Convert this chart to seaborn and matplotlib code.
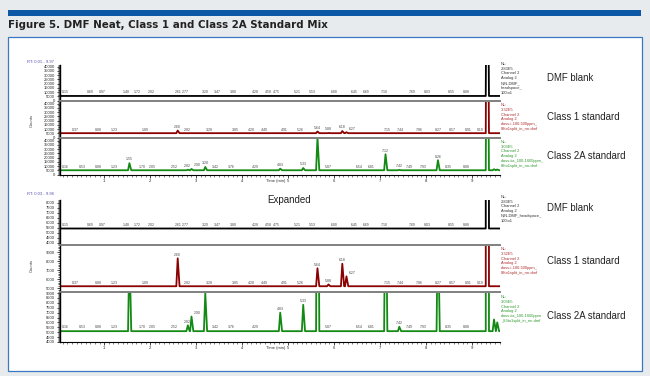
import numpy as np
import pandas as pd
import matplotlib
matplotlib.use("Agg")
import matplotlib.pyplot as plt
from matplotlib.ticker import MultipleLocator
from matplotlib.patches import Rectangle
import seaborn as sns

sns.set_style("white")
plt.rcParams['font.family'] = ['Liberation Sans', 'DejaVu Sans']

# Peak apex positions (min) and heights (counts)
dmf_rt = [9.33]
dmf_height = [300000]
dmf_base = 5450

c1_rt = [2.60, 5.64, 5.88, 6.18, 6.27, 9.33]
c1_height = [8300, 7200, 5400, 7700, 6300, 330000]
c1_base = 5200

c2a_rt = [1.55, 2.82, 2.90, 3.20, 4.83, 5.33, 5.64, 7.12, 7.42, 8.26, 9.33, 9.48, 9.55]
c2a_height = [13500, 5700, 6600, 9000, 7000, 7800, 44000, 24000, 5550, 17000, 300000, 6300, 6000]
c2a_base = 5100

# retention time labels printed along each trace
dmf_labels = [0.15, 0.69, 0.97, 1.48, 1.72, 2.02, 2.61, 2.77, 3.20, 3.47, 3.80, 4.28, 4.58,
              4.75, 5.21, 5.53, 6.00, 6.45, 6.69, 7.10, 7.69, 8.03, 8.55, 8.88]
c1_labels = [0.37, 0.88, 1.23, 1.89, 2.60, 2.82, 3.28, 3.85, 4.20, 4.49, 4.91, 5.26, 5.64,
             5.88, 6.18, 6.27, 7.15, 7.44, 7.86, 8.27, 8.57, 8.91, 9.19]
c2a_labels = [0.16, 0.53, 0.88, 1.23, 1.55, 1.70, 2.05, 2.52, 2.82, 2.90, 3.20, 3.42, 3.76,
              4.29, 4.83, 5.33, 5.87, 6.54, 6.81, 7.12, 7.42, 7.49, 7.93, 8.26, 8.35, 8.88]

names = ["DMF blank", "Class 1 standard", "Class 2A standard"]
colors = ["black", "#8b0000", "#138a13"]
nl_colors = ["#333333", "#b03030", "#2e9a2e"]
nl_full = ["NL:\n2.83E5\nChannel 2\nAnalog 2\nN,N-DMF_\nheadspace_\n100to1",
           "NL:\n3.32E5\nChannel 2\nAnalog 2\nclass-i-100-500ppm_\n83to1split_in_nn-dmf",
           "NL:\n3.03E5\nChannel 2\nAnalog 2\nclass-iia_100-1600ppm_\n83to1split_in_nn-dmf"]
nl_expanded = ["NL:\n2.83E5\nChannel 2\nAnalog 2\nN,N-DMF_headspace_\n100to1",
               "NL:\n3.32E5\nChannel 2\nAnalog 2\nclass-i-100-500ppm_\n83to1split_in_nn-dmf",
               "NL:\n3.03E5\nChannel 2\nAnalog 2\nclass-iia_100-1600ppm\n_83to1split_in_nn-dmf"]


def build_trace(rts, heights, base, left=0.03, right=0.04):
    t = [0.01]
    y = [base]
    for r, h in zip(rts, heights):
        t += [r - left, r, r + right]
        y += [base, h, base]
    t.append(9.97)
    y.append(base)
    return pd.DataFrame({"time": t, "counts": y})


traces = [build_trace(dmf_rt, dmf_height, dmf_base),
          build_trace(c1_rt, c1_height, c1_base),
          build_trace(c2a_rt, c2a_height, c2a_base)]
labels = [dmf_labels, c1_labels, c2a_labels]

W, H = 650, 376
fig = plt.figure(figsize=(6.5, 3.76), dpi=100)
fig.patch.set_facecolor("#e8ebee")


def fx(x):
    return x / W


def fy(y):
    return 1 - y / H


# frame, blue bar, title
fig.patches.append(Rectangle((fx(8), fy(371)), fx(634), 334 / H, transform=fig.transFigure,
                             facecolor="white", edgecolor="#3a78c2", lw=0.9, zorder=-5))
fig.patches.append(Rectangle((fx(8), fy(16)), fx(633), 6 / H, transform=fig.transFigure,
                             facecolor="#0d58a6", edgecolor="none", zorder=-5))
fig.text(fx(8), fy(25), "Figure 5. DMF Neat, Class 1 and Class 2A Standard Mix",
         fontsize=7.4, weight="bold", family="DejaVu Sans", color="#222222", va="center")

groups = [
    dict(rows=[(65, 101), (102, 138), (139, 175)],
         ylims=[(-500, 42000)] * 3, major=[5000] * 3, minor=[1000] * 3,
         rt="RT: 0.01 - 9.97", rt_y=62, nl=nl_full,
         nl_y=[62, 103, 140], name_y=[78, 117, 156], time_y=181, counts_y=120),
    dict(rows=[(200, 245), (246, 292), (293, 342)],
         ylims=[(3800, 8300), (4560, 9670), (3990, 9010)],
         major=[500, 1000, 500], minor=[100, 200, 100],
         rt="RT: 0.03 - 9.96", rt_y=194, nl=nl_expanded,
         nl_y=[195, 247, 295], name_y=[208, 261, 316], time_y=348, counts_y=265),
]

for g in groups:
    for i, (top, bot) in enumerate(g["rows"]):
        ax = fig.add_axes([fx(60), fy(bot), fx(440), (bot - top) / H])
        sns.lineplot(data=traces[i], x="time", y="counts", ax=ax, color=colors[i],
                     lw=1.3, estimator=None, sort=False, legend=False)
        ax.set_xlim(0.04, 9.61)
        lo, hi = g["ylims"][i]
        ax.set_ylim(lo, hi)
        ax.set_xlabel("")
        ax.set_ylabel("")
        ax.patch.set_alpha(0)
        for s in ["top", "right"]:
            ax.spines[s].set_visible(False)
        ax.spines["left"].set_linewidth(1.0)
        ax.spines["left"].set_color("black")
        ax.spines["bottom"].set_color("#808080" if i < 2 else "black")
        ax.spines["bottom"].set_linewidth(1.4 if i < 2 else 0.8)
        ax.yaxis.set_major_locator(MultipleLocator(g["major"][i]))
        ax.yaxis.set_minor_locator(MultipleLocator(g["minor"][i]))
        ax.tick_params(axis="y", which="major", length=2.5, width=0.6, labelsize=3, pad=1,
                       left=True)
        ax.tick_params(axis="y", which="minor", length=1.5, width=0.5, left=True)
        if i < 2:
            ax.tick_params(axis="x", which="both", bottom=False, labelbottom=False)
        else:
            ax.xaxis.set_major_locator(MultipleLocator(1))
            ax.xaxis.set_minor_locator(MultipleLocator(0.1))
            ax.tick_params(axis="x", which="major", length=2.2, width=0.6, labelsize=3,
                           pad=1, bottom=True)
            ax.tick_params(axis="x", which="minor", length=1.2, width=0.4, bottom=True)

        # retention time labels, nudged right when two sit very close together
        tr = traces[i]
        prev = -1.0
        for rt in labels[i]:
            yv = np.interp(rt, tr["time"], tr["counts"])
            if yv > hi - 0.03 * (hi - lo):
                prev = rt
                continue
            dx = 4.5 if rt - prev < 0.16 else 0
            ax.annotate(f"{rt:.2f}", (rt, yv), xytext=(dx, 1.2), textcoords="offset points",
                        ha="center", va="bottom", fontsize=2.5, color="#444444")
            prev = rt

        fig.text(fx(501), fy(g["nl_y"][i]), g["nl"][i], fontsize=2.9, color=nl_colors[i],
                 va="top", ha="left", linespacing=1.25)
        fig.text(fx(547), fy(g["name_y"][i]), names[i], fontsize=6.9, color="#222222",
                 va="center", ha="left")

    fig.text(fx(27), fy(g["rt_y"]), g["rt"], fontsize=3, color="#5050b0", va="center")
    fig.text(fx(32), fy(g["counts_y"]), "Counts", fontsize=3, rotation=90,
             va="center", ha="center", color="#333333")
    fig.text(fx(276), fy(g["time_y"]), "Time (min)", fontsize=3, va="center",
             ha="center", color="#333333")

fig.text(fx(289), fy(200), "Expanded", fontsize=7.0, color="#222222", va="center", ha="center")

fig.savefig("out.png", dpi=100, facecolor=fig.get_facecolor())
